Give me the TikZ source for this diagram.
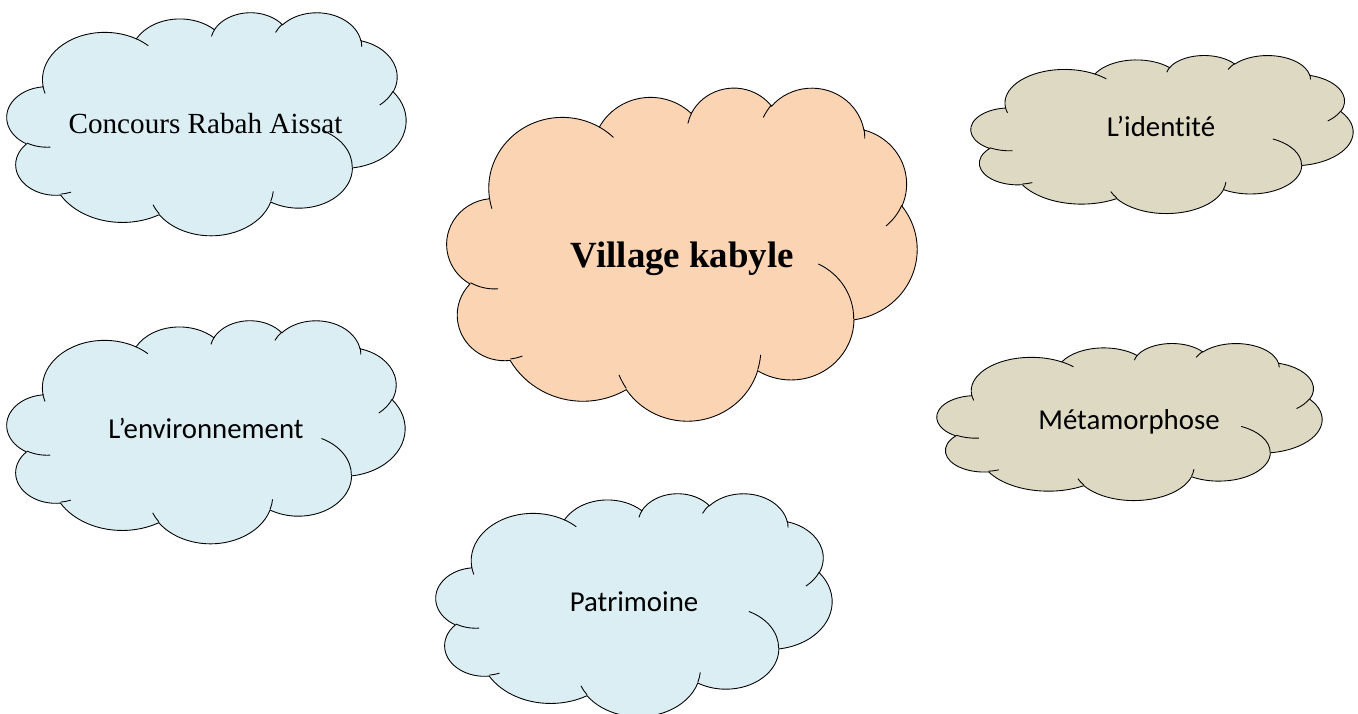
\documentclass[tikz,border=0pt]{standalone}
\usepackage{fontspec}
\setmainfont{Liberation Serif}
\newfontfamily\calibri[Ligatures=NoCommon]{Carlito}
\usepackage{xcolor}
\definecolor{sky}{HTML}{DAEEF3}
\definecolor{peach}{HTML}{FBD4B4}
\definecolor{sand}{HTML}{DDD9C3}
\tikzset{cloudline/.style={draw=black,line width=0.5pt}}
% angles of one arc of the cloud (visual angle -> ellipse parameter)
\newcommand\cloudangles[4]{%
	\pgfmathparse{atan2(#1*sin(#3),#2*cos(#3))}\xdef\cloudT{\pgfmathresult}%
	\pgfmathparse{mod(atan2(#1*sin(#3+#4),#2*cos(#3+#4))-\cloudT+720,360)}\xdef\cloudD{\pgfmathresult}%
}
% cloud in the box (left,top) width x height
\newcommand\wordcloud[5]{%
	\begin{scope}[shift={(#1,#2)},xscale=#3/43.2,yscale=#4/43.2]
		\filldraw[cloudline,fill=#5] (3.9,14.37)
			\foreach \wr/\hr/\st/\sw in {6.753/9.19/-190.48748/123.78053,5.333/7.267/-144.10238/89.94523,
				4.365/5.945/-145.80792/99.72302,4.857/6.595/-130.98607/117.24173,5.333/7.273/-78.70888/109.02692,
				6.775/9.22/-46.26725/130.269,5.785/7.867/0.62502/114.03333,6.752/9.215/22.4516/115.17255,
				7.72/10.543/66.24263/75.71102,4.36/5.918/-274.94208/146.73557,4.345/5.945/-246.8285/152.51885}{
				\pgfextra{\cloudangles{\wr}{\hr}{\st}{\sw}}
				arc[start angle=\cloudT,delta angle=\cloudD,x radius=\wr,y radius=\hr]
			} -- cycle;
		%
		\foreach \px/\py/\wr/\hr/\st/\sw in {4.693/26.177/4.345/5.945/86.742/26.4295,6.928/34.899/4.36/5.918/73.61047/11.44747,
			16.478/39.09/6.752/9.215/137.62415/14.0811,28.827/34.751/6.752/9.215/6.45327/15.99835,
			34.129/22.954/5.785/7.867/-70.29235/70.91737,41.798/15.354/5.333/7.273/30.31803/27.7515,
			38.324/5.426/4.857/6.595/-13.74433/14.8589,29.078/3.952/4.857/6.595/-149.18145/18.19537,
			22.141/4.72/4.365/5.945/-163.49427/17.68635,14/5.192/6.753/9.19/-66.70695/12.31935,
			4.127/15.789/6.753/9.19/157.65435/11.85817}{
			\cloudangles{\wr}{\hr}{\st}{\sw}
			\draw[cloudline] (\px,\py) arc[start angle=\cloudT,delta angle=\cloudD,x radius=\wr,y radius=\hr];
		}
	\end{scope}
}

\begin{document}
\begin{tikzpicture}[x=0.02cm,y=-0.02cm]
	%
	\useasboundingbox (0,0) rectangle (1358,713);
	%
	\wordcloud{7}{12}{399}{223}{sky}
	\wordcloud{447}{87}{470}{333}{peach}
	\wordcloud{971}{55}{382}{158}{sand}
	\wordcloud{7}{320}{398}{223}{sky}
	\wordcloud{937}{343}{385}{157}{sand}
	\wordcloud{436}{493}{396}{223}{sky}
	%
	\node[anchor=base] (concours) at (205.5,133) {\fontsize{16.6}{18}\selectfont Concours Rabah Aissat};
	\node[anchor=base] (village) at (682.5,267) {\fontsize{21}{24}\selectfont\bfseries Village kabyle};
	\node[anchor=base] (identite) at (1161,136) {\calibri\fontsize{16.4}{18}\selectfont L’identité};
	\node[anchor=base] (environnement) at (206,438) {\calibri\fontsize{16.4}{18}\selectfont L’environnement};
	\node[anchor=base] (metamorphose) at (1129,429) {\calibri\fontsize{16.4}{18}\selectfont Métamorphose};
	\node[anchor=base] (patrimoine) at (634,611) {\calibri\fontsize{16.4}{18}\selectfont Patrimoine};
	%
\end{tikzpicture}
\end{document}
